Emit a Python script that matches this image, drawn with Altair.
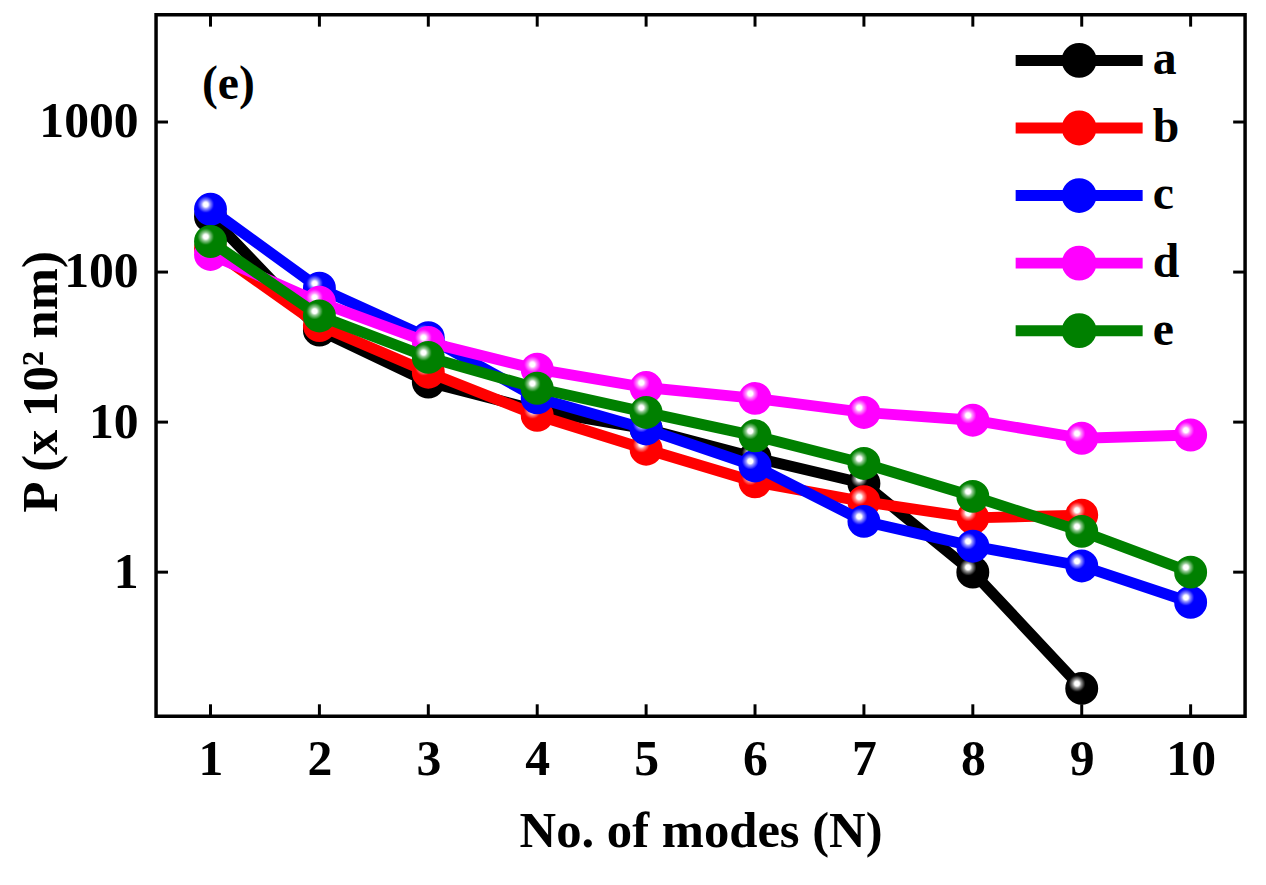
import altair as alt
import pandas as pd

# ---------------- data ----------------
modes = list(range(1, 11))
series_names = ["a", "b", "c", "d", "e"]
a_vals = [235, 41, 18.5, 12, 9, 5.8, 3.9, 1.0, 0.168]
b_vals = [144, 44, 21.5, 11.1, 6.6, 4.0, 2.95, 2.3, 2.4]
c_vals = [262, 78, 36.5, 14.5, 9.0, 5.1, 2.18, 1.49, 1.1, 0.63]
d_vals = [131, 63, 34, 22.5, 17, 14.4, 11.6, 10.3, 7.8, 8.2]
e_vals = [160, 51, 27, 16.8, 11.6, 8.1, 5.3, 3.2, 1.87, 1.0]
series_colors = ["#000000", "#ff0000", "#0000ff", "#ff00ff", "#008000"]

x_tick_values = list(range(1, 11))
y_tick_values = [1, 10, 100, 1000]
panel_label = ["(e)"]
panel_label_x = [1.164]
panel_label_y = [1760]

x_title = "No. of modes (N)"
y_title = "P (x 10\u00b2 nm)"

# ---------------- build table ----------------
rows = []
for name, vals in zip(series_names, [a_vals, b_vals, c_vals, d_vals, e_vals]):
    for n, v in zip(modes, vals):
        rows.append({"N": n, "P": v, "series": name})
df = pd.DataFrame(rows)

W, H = 1096, 706
FONT = "Liberation Serif"

xscale = alt.Scale(domain=[0.5, 10.5], nice=False, zero=False)
yscale = alt.Scale(type="log", domain=[0.1096, 5190], nice=False)
cscale = alt.Scale(domain=series_names, range=series_colors)

x_axis = alt.Axis(values=x_tick_values, format="d", title=x_title,
                  labelPadding=19, titlePadding=22, ticks=False, tickSize=0,
                  domain=False, grid=False)
y_axis = alt.Axis(values=y_tick_values, format="d", title=y_title,
                  labelPadding=18, titlePadding=-29, titleY=369, ticks=False,
                  tickSize=0, domain=False, grid=False)

# line through a (stroke-filled) circle
legend_symbol = ("M-3.55,0H3.55"
                 "M-0.667,0A0.667,0.667 0 1,0 0.667,0A0.667,0.667 0 1,0 -0.667,0"
                 "M-0.3,0A0.3,0.3 0 1,0 0.3,0A0.3,0.3 0 1,0 -0.3,0")
leg = alt.Legend(orient="none", legendX=905, legendY=22, title=None,
                 symbolType=legend_symbol, symbolSize=1296,
                 symbolStrokeWidth=11, labelFont=FONT, labelFontSize=48,
                 labelFontWeight="bold", labelColor="black", labelOffset=50,
                 rowPadding=-2, padding=0)

highlight = alt.RadialGradient(
    gradient="radial", x1=0.35, y1=0.35, r1=0, x2=0.35, y2=0.35, r2=0.26,
    stops=[
        alt.GradientStop(offset=0, color="#ffffff"),
        alt.GradientStop(offset=0.3, color="#ffffff"),
        alt.GradientStop(offset=0.5, color="rgba(255,255,255,0.6)"),
        alt.GradientStop(offset=0.75, color="rgba(255,255,255,0.3)"),
        alt.GradientStop(offset=1, color="rgba(255,255,255,0)"),
    ],
)

X = alt.X("N:Q", scale=xscale, axis=x_axis)
Y = alt.Y("P:Q", scale=yscale, axis=y_axis)

base = alt.Chart(df)
layers = []
for name in series_names:
    sel = base.transform_filter(alt.datum.series == name)
    layers.append(sel.mark_line(strokeWidth=11).encode(
        x=X, y=Y, color=alt.Color("series:N", scale=cscale, legend=leg)))
    layers.append(sel.mark_circle(size=490, strokeWidth=11, opacity=1).encode(
        x=X, y=Y,
        fill=alt.Fill("series:N", scale=cscale, legend=None),
        stroke=alt.Stroke("series:N", scale=cscale, legend=None)))
    layers.append(sel.mark_circle(size=1018, fill=highlight, opacity=1,
                                  strokeWidth=0).encode(x=X, y=Y))

# inward tick marks on all four sides
xt = alt.Chart(pd.DataFrame({"N": x_tick_values}))
yt = alt.Chart(pd.DataFrame({"P": y_tick_values}))
tick_style = dict(color="black", strokeWidth=3)
layers.append(xt.mark_rule(**tick_style).encode(x=X, y=alt.value(H), y2=alt.value(H - 12)))
layers.append(xt.mark_rule(**tick_style).encode(x=X, y=alt.value(0), y2=alt.value(12)))
layers.append(yt.mark_rule(**tick_style).encode(y=Y, x=alt.value(0), x2=alt.value(12)))
layers.append(yt.mark_rule(**tick_style).encode(y=Y, x=alt.value(W), x2=alt.value(W - 12)))

# panel label
lab = alt.Chart(pd.DataFrame({"N": panel_label_x, "P": panel_label_y, "t": panel_label}))
layers.append(lab.mark_text(font=FONT, fontSize=48, fontWeight="bold", color="black",
                            align="center", baseline="middle").encode(x=X, y=Y, text="t:N"))

chart = alt.layer(*layers).properties(
    width=W, height=H,
    autosize=alt.AutoSizeParams(type="none"),
    padding={"left": 149, "top": 4, "right": 13, "bottom": 150},
).configure_axis(
    labelFont=FONT, labelFontSize=50, labelFontWeight="bold", labelColor="black",
    titleFont=FONT, titleFontSize=51, titleFontWeight="bold", titleColor="black",
).configure_view(stroke="black", strokeWidth=3.5)

chart.save("out.html", embed_options={"renderer": "svg", "actions": False})
